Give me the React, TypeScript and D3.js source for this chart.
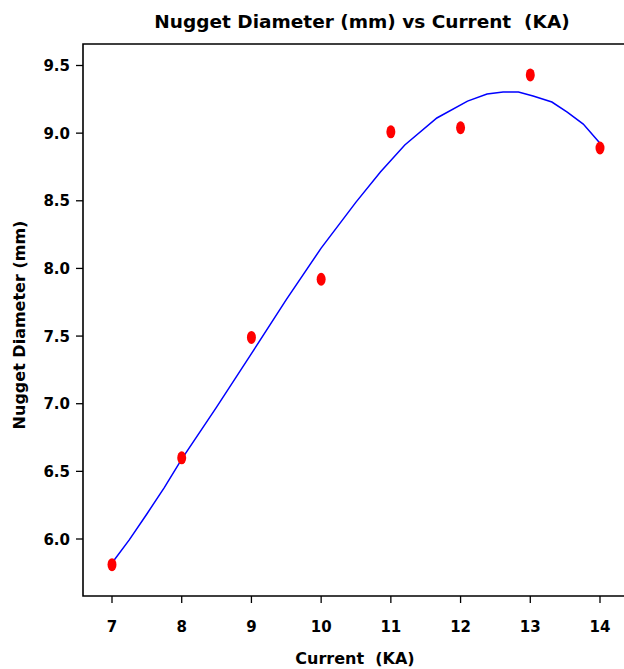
import React, { useEffect, useRef } from "react";
import * as d3 from "d3";

// measured points
const currentKA = [7, 8, 9, 10, 11, 12, 13, 14];
const nuggetMM = [5.81, 6.6, 7.49, 7.92, 9.01, 9.04, 9.43, 8.89];

// fitted curve
const fitX = [7, 7.25, 7.5, 7.75, 8, 8.5, 9, 9.5, 10, 10.5, 10.85, 11.2, 11.66, 12.1, 12.38, 12.61, 12.83, 13.04, 13.31, 13.53, 13.76, 14];
const fitY = [5.823, 5.995, 6.185, 6.38, 6.59, 6.975, 7.37, 7.77, 8.15, 8.49, 8.713, 8.912, 9.112, 9.237, 9.289, 9.304, 9.304, 9.274, 9.23, 9.156, 9.067, 8.926];

const xTicks = [7, 8, 9, 10, 11, 12, 13, 14];
const yTicks = [6.0, 6.5, 7.0, 7.5, 8.0, 8.5, 9.0, 9.5];

const App = () => {
  const ref = useRef<SVGSVGElement>(null);

  useEffect(() => {
    const width = 624,
      height = 669;
    const left = 83,
      right = 641,
      top = 44,
      bottom = 596;

    const svg = d3.select(ref.current);
    svg.selectAll("*").remove();

    const x = d3.scaleLinear().domain([7, 14]).range([112, 600]);
    const y = d3.scaleLinear().domain([6.0, 9.5]).range([539, 65.5]);

    const font = "'DejaVu Sans', Verdana, sans-serif";

    // frame (right side runs off the canvas)
    svg
      .append("path")
      .attr("d", `M${right},${top}H${left}V${bottom}H${right}`)
      .attr("fill", "none")
      .attr("stroke", "#000")
      .attr("stroke-width", 1.6);

    // x ticks
    const xg = svg.append("g");
    xg.selectAll("line")
      .data(xTicks)
      .enter()
      .append("line")
      .attr("x1", (d) => x(d))
      .attr("x2", (d) => x(d))
      .attr("y1", bottom)
      .attr("y2", bottom + 7)
      .attr("stroke", "#000")
      .attr("stroke-width", 1.3);
    xg.selectAll("text")
      .data(xTicks)
      .enter()
      .append("text")
      .attr("x", (d) => x(d))
      .attr("y", 632)
      .attr("text-anchor", "middle")
      .style("font-family", font)
      .style("font-weight", "bold")
      .style("font-size", "15px")
      .text((d) => d);

    // y ticks
    const yg = svg.append("g");
    yg.selectAll("line")
      .data(yTicks)
      .enter()
      .append("line")
      .attr("x1", left - 7)
      .attr("x2", left)
      .attr("y1", (d) => y(d))
      .attr("y2", (d) => y(d))
      .attr("stroke", "#000")
      .attr("stroke-width", 1.3);
    yg.selectAll("text")
      .data(yTicks)
      .enter()
      .append("text")
      .attr("x", 70)
      .attr("y", (d) => y(d) + 5.5)
      .attr("text-anchor", "end")
      .style("font-family", font)
      .style("font-weight", "bold")
      .style("font-size", "15px")
      .text((d) => d.toFixed(1));

    // fitted line
    const line = d3
      .line<number>()
      .x((d) => x(d))
      .y((d, i) => y(fitY[i]));
    svg
      .append("path")
      .datum(fitX)
      .attr("d", line)
      .attr("fill", "none")
      .attr("stroke", "#0000ff")
      .attr("stroke-width", 1.5);

    // points
    svg
      .selectAll("ellipse")
      .data(currentKA)
      .enter()
      .append("ellipse")
      .attr("cx", (d) => x(d))
      .attr("cy", (d, i) => y(nuggetMM[i]))
      .attr("rx", 4.5)
      .attr("ry", 6.5)
      .attr("fill", "#ff0000");

    // titles
    svg
      .append("text")
      .attr("x", 362)
      .attr("y", 28)
      .attr("text-anchor", "middle")
      .style("white-space", "pre")
      .style("font-family", font)
      .style("font-weight", "bold")
      .style("font-size", "18.5px")
      .text("Nugget Diameter (mm) vs Current  (KA)");

    svg
      .append("text")
      .attr("x", 355)
      .attr("y", 664)
      .attr("text-anchor", "middle")
      .style("white-space", "pre")
      .style("font-family", font)
      .style("font-weight", "bold")
      .style("font-size", "16px")
      .text("Current  (KA)");

    svg
      .append("text")
      .attr("transform", "translate(25,325)rotate(-90)")
      .attr("text-anchor", "middle")
      .style("font-family", font)
      .style("font-weight", "bold")
      .style("font-size", "16px")
      .text("Nugget Diameter (mm)");

    svg.attr("width", width).attr("height", height);
  }, []);

  return (
    <svg
      ref={ref}
      width={624}
      height={669}
      style={{ position: "absolute", left: 0, top: 0, background: "#fff" }}
    />
  );
};

export default App;
